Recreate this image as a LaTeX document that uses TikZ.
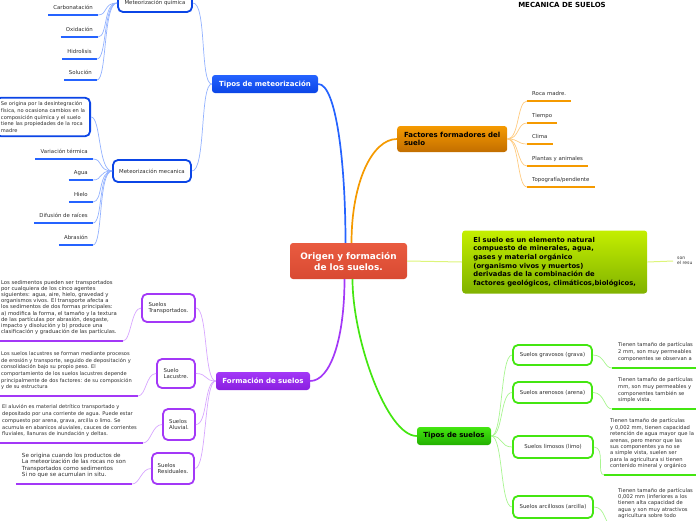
\documentclass[tikz,border=0pt]{standalone}
\usepackage{fontspec}
\setmainfont{DejaVu Sans}
\usepackage{tikz}
\definecolor{rootred}{HTML}{E95B40}
\definecolor{rootreddark}{HTML}{D94A32}
\definecolor{meteo}{HTML}{2563FF}
\definecolor{meteodark}{HTML}{0B45E6}
\definecolor{meteolight}{HTML}{93B2FF}
\definecolor{factor}{HTML}{F59A00}
\definecolor{factordark}{HTML}{C26E00}
\definecolor{factorlight}{HTML}{FFCB80}
\definecolor{defn}{HTML}{C4EE00}
\definecolor{defndark}{HTML}{80B200}
\definecolor{defnlight}{HTML}{DDF57A}
\definecolor{suelo}{HTML}{44E611}
\definecolor{suelodark}{HTML}{22B000}
\definecolor{suelolight}{HTML}{A8F590}
\definecolor{forma}{HTML}{A338F7}
\definecolor{formadark}{HTML}{8A1FE0}
\definecolor{formalight}{HTML}{D7A6FF}
\definecolor{txtgray}{HTML}{2E2E2E}

\begin{document}
\begin{tikzpicture}[x=1pt,y=-1pt,
  every node/.style={font=\fontsize{5}{6.4}\selectfont,text=txtgray},
  topbox/.style={rounded corners=3pt,align=left,inner sep=0pt,
    font=\fontsize{7}{8.4}\selectfont\bfseries},
  subbox/.style={draw=#1,line width=1.8pt,fill=white,rounded corners=5pt,
    align=left,inner sep=0pt,font=\fontsize{5.4}{6.5}\selectfont},
  leafnode/.style={inner xsep=5pt,inner ysep=4pt,text depth=1pt,
    font=\fontsize{5.4}{6.5}\selectfont},
  descnode/.style={align=left,inner xsep=6pt,inner ysep=6pt},
  uline/.style={draw=#1,line width=1.8pt},
  thinlink/.style={draw=#1,line width=0.7pt},
  mainlink/.style={draw=#1,line width=1.7pt}
]
\useasboundingbox (0,0) rectangle (696,520);
\clip (0,0) rectangle (696,520);

% centro
\node[topbox,align=center,top color=rootred,bottom color=rootreddark,text=white,
  font=\fontsize{8.9}{11}\selectfont\bfseries,minimum width=117pt,minimum height=36pt]
  (origen) at (348.5,261) {Origen y formación\\de los suelos.};
\node[font=\fontsize{7}{8}\selectfont\bfseries,text=black] (titulo) at (562,4.5) {MECANICA DE SUELOS};

% ramas principales
\node[topbox,align=center,top color=meteo,bottom color=meteodark,text=white,
  minimum width=106pt,minimum height=18pt] (tmet) at (265,84) {Tipos de meteorización};
\node[topbox,top color=factor,bottom color=factordark,text=black,
  minimum width=110pt,minimum height=26pt,anchor=west] (fact) at (397,139) {Factores formadores del\\suelo};
\node[topbox,top color=defn,bottom color=defndark,text=black,font=\fontsize{6.8}{8.6}\selectfont\bfseries,
  minimum width=185pt,minimum height=63pt,anchor=west] (defin) at (462,262)
  {El suelo es un elemento natural\\compuesto de minerales, agua,\\gases y material orgánico\\(organismo vivos y muertos)\\derivadas de la combinación de\\factores geológicos, climáticos,biológicos,};
\node[align=left,font=\fontsize{4.5}{5}\selectfont,anchor=west,inner xsep=4pt] (sonres) at (673,261) {son\\el resu};
\node[topbox,align=center,top color=suelo,bottom color=suelodark,text=black,
  minimum width=74pt,minimum height=18pt] (tsuel) at (454,436) {Tipos de suelos};
\node[topbox,align=center,top color=forma,bottom color=formadark,text=white,
  minimum width=94pt,minimum height=18pt] (form) at (263,381) {Formación de suelos};

% meteorizacion
\node[subbox=meteodark,align=center,minimum width=74pt,minimum height=18pt] (mquim) at (155,3) {Meteorización química};
\node[subbox=meteodark,minimum width=78pt,minimum height=22pt] (mmec) at (152,171) {Meteorización mecanica};
\node[subbox=meteodark,inner xsep=5pt,inner ysep=4pt,anchor=east,font=\fontsize{5.1}{6.6}\selectfont] (mecdesc) at (91,117)
  {Se origina por la desintegración\\física, no ocasiona cambios en la\\composición química y el suelo\\tiene las propiedades de la roca\\madre};

\node[leafnode,anchor=south east] (carb) at (98,15) {Carbonatación};
\node[leafnode,anchor=south east] (oxid) at (98,37) {Oxidación};
\node[leafnode,anchor=south east] (hidr) at (97,59) {Hidrolisis};
\node[leafnode,anchor=south east] (soluc) at (97,80) {Solución};
\node[leafnode,anchor=south east] (vari) at (93,159) {Variación térmica};
\node[leafnode,anchor=south east] (agua) at (93,180) {Agua};
\node[leafnode,anchor=south east] (hielo) at (93,202) {Hielo};
\node[leafnode,anchor=south east] (difu) at (93,223) {Difusión de raíces};
\node[leafnode,anchor=south east] (abra) at (93,245) {Abrasión};

% factores
\node[leafnode,anchor=south west] (roca) at (527,101) {Roca madre.};
\node[leafnode,anchor=south west] (tiem) at (527,123) {Tiempo};
\node[leafnode,anchor=south west] (clim) at (527,144) {Clima};
\node[leafnode,anchor=south west] (plan) at (527,166) {Plantas y animales};
\node[leafnode,anchor=south west] (topo) at (527,187) {Topografía/pendiente};

% tipos de suelos
\node[subbox=suelo,minimum width=79pt,minimum height=20pt] (sgrav) at (552.5,355) {Suelos gravosos (grava)};
\node[subbox=suelo,minimum width=79pt,minimum height=21pt] (sare) at (552.5,392.5) {Suelos arenosos (arena)};
\node[subbox=suelo,minimum width=80pt,minimum height=22pt] (slimo) at (553,447) {Suelos limosos (limo)};
\node[subbox=suelo,minimum width=80pt,minimum height=22pt] (sarci) at (553,507) {Suelos arcillosos (arcilla)};
\node[descnode,text width=92pt,anchor=south west,font=\fontsize{5.2}{7}\selectfont] (dgrav) at (612,368)
  {Tienen tamaño de partículas\\2 mm, son muy permeables\\componentes se observan a};
\node[descnode,text width=92pt,anchor=south west,font=\fontsize{5.2}{6.6}\selectfont] (dare) at (612,409)
  {Tienen tamaño de partículas\\mm, son muy permeables y\\componentes también se\\simple vista.};
\node[descnode,text width=92pt,anchor=south west,font=\fontsize{5.2}{6.4}\selectfont] (dlimo) at (604,475)
  {Tienen tamaño de partículas\\y 0,002 mm, tienen capacidad\\retención de agua mayor que la\\arenas, pero menor que las\\sus componentes ya no se\\a simple vista, suelen ser\\para la agricultura si tienen\\contenido mineral y orgánico};
\node[descnode,text width=92pt,anchor=south west,font=\fontsize{5.2}{6.4}\selectfont] (darci) at (612,525)
  {Tienen tamaño de partículas\\0,002 mm (inferiores a los\\tienen alta capacidad de\\agua y son muy atractivos\\agricultura sobre todo};

% formacion de suelos
\node[subbox=forma,minimum width=53pt,minimum height=28pt] (stran) at (168.5,308) {Suelos\\Transportados.};
\node[subbox=forma,minimum width=38pt,minimum height=29pt] (slacu) at (176,373.5) {Suelo\\Lacustre.};
\node[subbox=forma,minimum width=32pt,minimum height=31pt] (saluv) at (179,424.5) {Suelos\\Aluvial.};
\node[subbox=forma,minimum width=42pt,minimum height=31pt] (sresi) at (173,468.5) {Suelos\\Residuales.};
\node[descnode,anchor=south east,font=\fontsize{5.3}{6.2}\selectfont] (dtran) at (123,341)
  {Los sedimentos pueden ser transportados\\por cualquiera de los cinco agentes\\siguientes: agua, aire, hielo, gravedad y\\organismos vivos. El transporte afecta a\\los sedimentos de dos formas principales:\\a) modifica la forma, el tamaño y la textura\\de las partículas por abrasión, desgaste,\\impacto y disolución y b) produce una\\clasificación y graduación de las partículas.};
\node[descnode,anchor=south east,font=\fontsize{5.1}{6.6}\selectfont] (dlacu) at (138,396)
  {Los suelos lacustres se forman mediante procesos\\de erosión y transporte, seguido de depositación y\\consolidación bajo su propio peso. El\\comportamiento de los suelos lacustres depende\\principalmente de dos factores: de su composición\\y de su estructura};
\node[descnode,anchor=south east,font=\fontsize{5.1}{6.7}\selectfont] (daluv) at (143,443)
  {El aluvión es material detrítico transportado y\\depositado por una corriente de agua. Puede estar\\compuesto por arena, grava, arcilla o limo. Se\\acumula en abanicos aluviales, cauces de corrientes\\fluviales, llanuras de inundación y deltas.};
\node[descnode,anchor=south east,font=\fontsize{5.6}{6.4}\selectfont] (dresi) at (132,484)
  {Se origina cuando los productos de\\La meteorización de las rocas no son\\Transportados como sedimentos\\Si no que se acumulan in situ.};

% subrayados
\foreach \n in {carb,oxid,hidr,soluc,vari,agua,hielo,difu,abra}
  \draw[uline=meteo] (\n.south west) -- (\n.south east);
\foreach \n in {roca,tiem,clim,plan,topo}
  \draw[uline=factor] (\n.south west) -- (\n.south east);
\foreach \n in {dgrav,dare,dlimo,darci}
  \draw[uline=suelo] (\n.south west) -- (\n.south east);
\foreach \n in {dtran,dlacu,daluv,dresi}
  \draw[uline=forma] (\n.south west) -- (\n.south east);

% conectores
\draw[mainlink=meteo] ([xshift=-3pt]origen.north) .. controls +(0,-80) and +(18,0) .. (tmet.east);
\draw[mainlink=factor] ([xshift=3pt]origen.north) .. controls +(0,-60) and +(-25,0) .. (fact.west);
\draw[thinlink=defnlight,line width=1pt] (origen.east) -- (defin.west);
\draw[thinlink=defnlight,line width=1pt] (defin.east) -- (sonres.west);
\draw[mainlink=suelo] ([xshift=4pt]origen.south) .. controls +(0,60) and +(-30,0) .. (tsuel.west);
\draw[mainlink=forma] ([xshift=-4pt]origen.south) .. controls +(0,60) and +(20,0) .. (form.east);

\foreach \n in {mquim,mmec}
  \draw[thinlink=meteolight] (tmet.west) .. controls +(-12,0) and +(14,0) .. (\n.east);
\foreach \n in {carb,oxid,hidr,soluc}
  \draw[thinlink=meteolight] (mquim.west) .. controls +(-14,0) and +(10,0) .. (\n.south east);
\draw[thinlink=meteolight] (mmec.west) .. controls +(-14,0) and +(10,0) .. (mecdesc.east);
\foreach \n in {vari,agua,hielo,difu,abra}
  \draw[thinlink=meteolight] (mmec.west) .. controls +(-14,0) and +(10,0) .. (\n.south east);

\foreach \n in {roca,tiem,clim,plan,topo}
  \draw[thinlink=factorlight] (fact.east) .. controls +(12,0) and +(-10,0) .. (\n.south west);

\foreach \n in {sgrav,sare,slimo,sarci}
  \draw[thinlink=suelolight] (tsuel.east) .. controls +(12,0) and +(-12,0) .. (\n.west);
\foreach \s/\d in {sgrav/dgrav,sare/dare,slimo/dlimo,sarci/darci}
  \draw[thinlink=suelolight] (\s.east) .. controls +(12,0) and +(-8,0) .. (\d.south west);

\foreach \n in {stran,slacu,saluv,sresi}
  \draw[thinlink=formalight] (form.west) .. controls +(-12,0) and +(12,0) .. (\n.east);
\foreach \s/\d in {stran/dtran,slacu/dlacu,saluv/daluv,sresi/dresi}
  \draw[thinlink=formalight] (\s.west) .. controls +(-10,0) and +(8,0) .. (\d.south east);
\end{tikzpicture}
\end{document}
